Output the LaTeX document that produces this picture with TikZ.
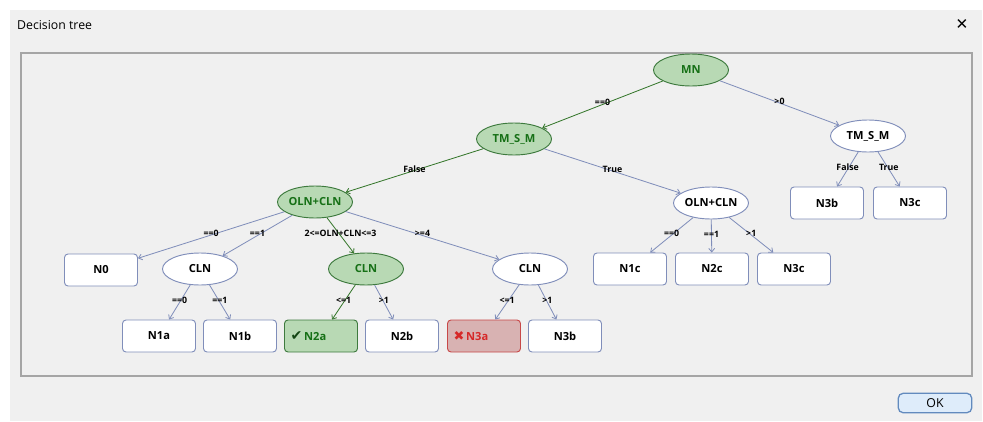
\documentclass[tikz,border=0pt]{standalone}
\usepackage{fontspec}
\setmainfont{Open Sans}
\newfontfamily\symfont{DejaVu Sans}
\usepackage{xcolor}
\usepackage{tikz}
\usetikzlibrary{shapes,arrows.meta,positioning}

\definecolor{wingray}{RGB}{240,240,240}
\definecolor{panelline}{RGB}{165,165,165}
\definecolor{edgeblue}{RGB}{128,142,186}
\definecolor{edgegreen}{RGB}{52,118,42}
\definecolor{hotfill}{RGB}{184,217,180}
\definecolor{hotdraw}{RGB}{62,122,62}
\definecolor{hottext}{RGB}{22,112,22}
\definecolor{tickgreen}{RGB}{20,70,20}
\definecolor{badfill}{RGB}{216,178,178}
\definecolor{baddraw}{RGB}{200,72,72}
\definecolor{badtext}{RGB}{214,40,40}
\definecolor{okfill}{RGB}{222,236,250}
\definecolor{okdraw}{RGB}{98,138,190}

\begin{document}
\begin{tikzpicture}[x=0.03cm, y=-0.03cm,
    split/.style={ellipse, draw=edgeblue, fill=white, line width=0.8pt, minimum width=2.25cm, minimum height=0.96cm, inner xsep=-8pt, inner ysep=-2pt, font=\bfseries\fontsize{9.5}{11}\selectfont},
    leaf/.style={rectangle, rounded corners=3pt, draw=edgeblue, fill=white, line width=0.8pt, minimum width=2.19cm, minimum height=0.96cm, inner sep=0pt, font=\bfseries\fontsize{9.5}{11}\selectfont},
    hot/.style={fill=hotfill, draw=hotdraw, text=hottext},
    bad/.style={fill=badfill, draw=baddraw, text=badtext},
    flagged/.style={text width=1.83cm, inner xsep=0.18cm, align=left},
    edge/.style={draw=edgeblue, line width=0.7pt, -{Straight Barb[length=3pt,width=5pt]}},
    hotedge/.style={edge, draw=edgegreen},
    cond/.style={midway, yshift=1.5pt, inner sep=0pt, font=\bfseries\fontsize{7.5}{8}\selectfont}]

    \useasboundingbox (0,0) rectangle (983,421);
    % window and panel
    \fill[white] (0,0) rectangle (983,421);
    \fill[wingray] (10,10) rectangle (982,421);
    \draw[panelline, line width=0.9pt] (21,53) rectangle (972,376);
    \node[anchor=west, font=\fontsize{10.5}{12}\selectfont] (title) at (13,25) {Decision tree};
    \node[font=\symfont\fontsize{13}{13}\selectfont] (close) at (962,24) {✕};
    \node[rectangle, rounded corners=4pt, draw=okdraw, fill=okfill, line width=1.1pt, minimum width=2.2cm, minimum height=0.58cm, font=\fontsize{10.5}{12}\selectfont] (ok) at (935,403) {OK};

    % splits
    \node[split, hot] (mn) at (691,70) {MN};
    \node[split, hot] (tmL) at (514,139) {TM\_S\_M};
    \node[split] (tmR) at (868,136) {TM\_S\_M};
    \node[split, hot] (olnL) at (315,202) {OLN+CLN};
    \node[split] (olnR) at (711,203) {OLN+CLN};
    \node[split] (clnA) at (200,269) {CLN};
    \node[split, hot] (clnB) at (366,269) {CLN};
    \node[split] (clnC) at (530,269) {CLN};

    % leaves
    \node[leaf] (n3bR) at (827,203) {N3b};
    \node[leaf] (n3cR) at (910,203) {N3c};
    \node[leaf] (n0) at (101,270) {N0};
    \node[leaf] (n1c) at (630,269) {N1c};
    \node[leaf] (n2c) at (712,269) {N2c};
    \node[leaf] (n3c) at (794,269) {N3c};
    \node[leaf] (n1a) at (159,336) {N1a};
    \node[leaf] (n1b) at (240,336) {N1b};
    \node[leaf, hot, flagged] (n2a) at (321,336) {{\symfont\fontsize{12}{12}\selectfont\color{tickgreen}✔}\,N2a};
    \node[leaf] (n2b) at (402,336) {N2b};
    \node[leaf, bad, flagged] (n3a) at (484,336) {{\symfont\fontsize{11}{12}\selectfont ✖}\,N3a};
    \node[leaf] (n3b) at (565,336) {N3b};

    % connectors
    \foreach \a/\b/\t in {mn/tmR/{>0}, tmL/olnR/{True}, tmR/n3bR/{False}, tmR/n3cR/{True},
        olnL/n0/{==0}, olnL/clnA/{==1}, olnL/clnC/{>=4}, clnA/n1a/{==0}, clnA/n1b/{==1},
        clnB/n2b/{>1}, clnC/n3a/{<=1}, clnC/n3b/{>1}, olnR/n1c/{==0}, olnR/n2c/{==1}, olnR/n3c/{>1}}
        \draw[edge] (\a) -- node[cond] {\t} (\b);
    \foreach \a/\b/\t in {mn/tmL/{==0}, tmL/olnL/{False}, olnL/clnB/{2<=OLN+CLN<=3}, clnB/n2a/{<=1}}
        \draw[hotedge] (\a) -- node[cond] {\t} (\b);
\end{tikzpicture}
\end{document}
